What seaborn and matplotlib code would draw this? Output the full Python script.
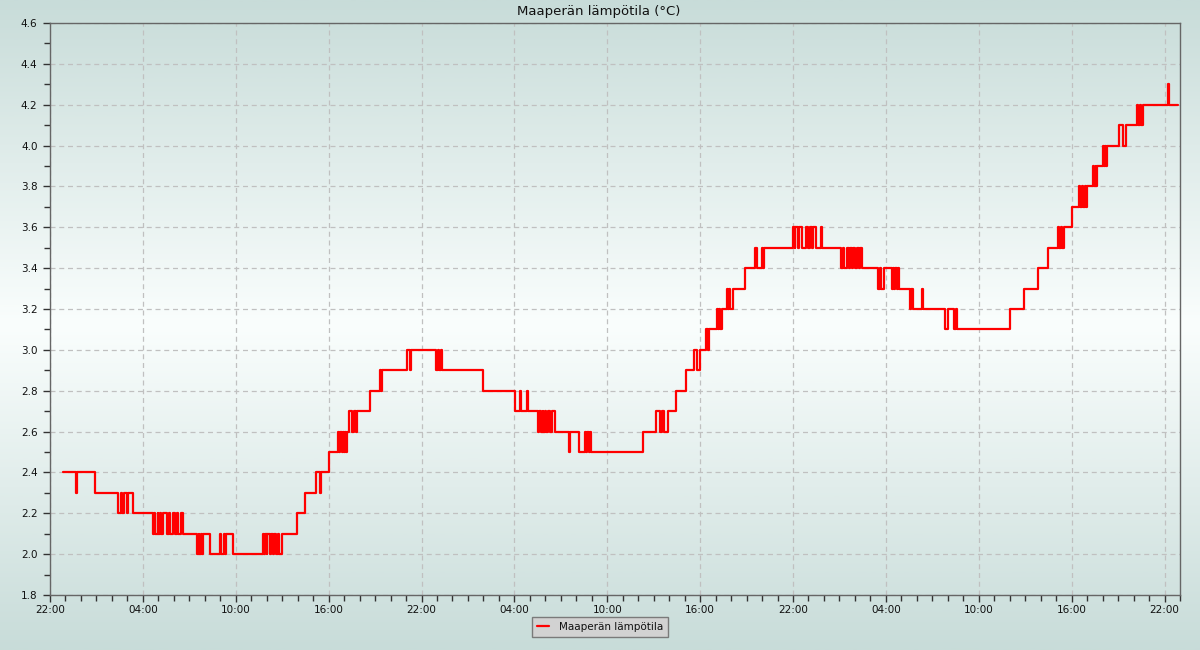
import numpy as np
import pandas as pd
import matplotlib
matplotlib.use("Agg")
import matplotlib.pyplot as plt
from matplotlib.colors import LinearSegmentedColormap
from matplotlib.ticker import MultipleLocator
import seaborn as sns

# ---- data: hours since 22:00 on day 1, soil temperature (°C), step changes ----
hours = [
    0.82, 1.68, 1.74, 2.91,
    4.39, 4.60, 4.68, 4.78, 4.98, 5.04, 5.36,
    6.65, 6.72, 6.80, 6.95, 7.00, 7.10, 7.18, 7.30,
    7.56, 7.70, 7.78, 7.95,
    8.07, 8.20, 8.30, 8.45, 8.59,
    9.50, 9.60, 9.65, 9.75, 9.80, 9.88,
    10.34, 10.98, 11.05, 11.24, 11.32, 11.40, 11.82,
    13.76, 13.85, 13.90, 14.00, 14.05, 14.20, 14.30, 14.40, 14.50, 14.60, 14.70, 14.80, 14.99,
    15.96, 16.47, 17.18, 17.44, 17.50, 18.02,
    18.60, 18.68, 18.75, 18.85, 18.90, 19.00, 19.05, 19.12, 19.19,
    19.32, 19.51, 19.64, 19.77, 19.83,
    20.67, 21.32, 21.38, 21.45,
    23.06, 23.26, 23.32,
    24.94, 25.05, 25.10, 25.28, 25.32,
    27.97, 30.04, 30.36, 30.42, 30.81, 30.87,
    31.52, 31.62, 31.70, 31.82, 31.88, 32.00, 32.05, 32.15, 32.30, 32.40, 32.62,
    33.53, 33.60,
    34.17, 34.56, 34.65, 34.72, 34.82, 34.88, 34.95,
    38.31,
    39.15, 39.40, 39.55, 39.65, 39.92,
    40.44, 41.09, 41.60, 41.80, 41.99,
    42.38, 42.51, 42.60,
    43.09, 43.15, 43.25, 43.30, 43.41,
    43.73, 43.80, 43.88, 43.93, 44.12,
    44.90, 45.54, 45.67, 45.98, 46.04, 46.12,
    48.00, 48.10, 48.15, 48.30, 48.38, 48.55, 48.84, 49.00, 49.10, 49.25, 49.30, 49.50, 49.82, 49.87,
    51.10, 51.20, 51.28, 51.50, 51.60, 51.70, 51.80, 51.90, 52.00, 52.15, 52.25, 52.35, 52.45,
    53.49, 53.60, 53.70, 53.88,
    54.39, 54.45, 54.55, 54.62, 54.70, 54.78, 54.85,
    55.56, 55.62, 55.75, 56.33, 56.38,
    57.82, 58.00, 58.40, 58.50, 58.59,
    62.05, 62.92, 63.82, 64.47,
    65.12, 65.20, 65.30, 65.40, 65.50,
    66.02, 66.47, 66.55, 66.65, 66.75, 66.85, 66.92, 66.99,
    67.38, 67.45, 67.55, 67.60, 67.64,
    68.02, 68.08, 68.18, 68.24, 68.28,
    69.06, 69.31, 69.50,
    70.22, 70.30, 70.40, 70.50, 70.61,
    72.22, 72.27, 72.87,
]
temps = [
    2.4, 2.3, 2.4, 2.3,
    2.2, 2.3, 2.2, 2.3, 2.2, 2.3, 2.2,
    2.1, 2.2, 2.1, 2.2, 2.1, 2.2, 2.1, 2.2,
    2.1, 2.2, 2.1, 2.2,
    2.1, 2.2, 2.1, 2.2, 2.1,
    2.0, 2.1, 2.0, 2.1, 2.0, 2.1,
    2.0, 2.1, 2.0, 2.1, 2.0, 2.1, 2.0,
    2.1, 2.0, 2.1, 2.0, 2.1, 2.0, 2.1, 2.0, 2.1, 2.0, 2.1, 2.0, 2.1,
    2.2, 2.3, 2.4, 2.3, 2.4, 2.5,
    2.6, 2.5, 2.6, 2.5, 2.6, 2.5, 2.6, 2.5, 2.6,
    2.7, 2.6, 2.7, 2.6, 2.7,
    2.8, 2.9, 2.8, 2.9,
    3.0, 2.9, 3.0,
    2.9, 3.0, 2.9, 3.0, 2.9,
    2.8, 2.7, 2.8, 2.7, 2.8, 2.7,
    2.6, 2.7, 2.6, 2.7, 2.6, 2.7, 2.6, 2.7, 2.6, 2.7, 2.6,
    2.5, 2.6,
    2.5, 2.6, 2.5, 2.6, 2.5, 2.6, 2.5,
    2.6,
    2.7, 2.6, 2.7, 2.6, 2.7,
    2.8, 2.9, 3.0, 2.9, 3.0,
    3.1, 3.0, 3.1,
    3.2, 3.1, 3.2, 3.1, 3.2,
    3.3, 3.2, 3.3, 3.2, 3.3,
    3.4, 3.5, 3.4, 3.5, 3.4, 3.5,
    3.6, 3.5, 3.6, 3.5, 3.6, 3.5, 3.6, 3.5, 3.6, 3.5, 3.6, 3.5, 3.6, 3.5,
    3.4, 3.5, 3.4, 3.5, 3.4, 3.5, 3.4, 3.5, 3.4, 3.5, 3.4, 3.5, 3.4,
    3.3, 3.4, 3.3, 3.4,
    3.3, 3.4, 3.3, 3.4, 3.3, 3.4, 3.3,
    3.2, 3.3, 3.2, 3.3, 3.2,
    3.1, 3.2, 3.1, 3.2, 3.1,
    3.2, 3.3, 3.4, 3.5,
    3.6, 3.5, 3.6, 3.5, 3.6,
    3.7, 3.8, 3.7, 3.8, 3.7, 3.8, 3.7, 3.8,
    3.9, 3.8, 3.9, 3.8, 3.9,
    4.0, 3.9, 4.0, 3.9, 4.0,
    4.1, 4.0, 4.1,
    4.2, 4.1, 4.2, 4.1, 4.2,
    4.3, 4.2, 4.2,
]
tick_hours = [0, 6, 12, 18, 24, 30, 36, 42, 48, 54, 60, 66, 72]
tick_labels = ["22:00", "04:00", "10:00", "16:00", "22:00", "04:00", "10:00",
               "16:00", "22:00", "04:00", "10:00", "16:00", "22:00"]
series_name = "Maaperän lämpötila"
title = "Maaperän lämpötila (°C)"

df = pd.DataFrame({"hours": hours, "temp": temps, "series": series_name})

sns.set_theme(style="ticks")
plt.rcParams["font.family"] = ["DejaVu Sans"]

fig = plt.figure(figsize=(12, 6.5), dpi=100)

# background gradient (teal-gray at top/bottom, white in middle)
edge = np.array([200, 220, 217]) / 255
mid = np.array([250, 254, 253]) / 255
cmap = LinearSegmentedColormap.from_list("bg", [edge, mid, edge])
bg = fig.add_axes([0, 0, 1, 1], zorder=-10)
grad = np.linspace(0, 1, 512).reshape(-1, 1)
bg.imshow(grad, aspect="auto", cmap=cmap, extent=[0, 1, 0, 1], origin="lower")
bg.set_axis_off()

ax = fig.add_axes([50 / 1200, 1 - 595 / 650, 1130 / 1200, 572 / 650])
ax.set_facecolor("none")

sns.lineplot(data=df, x="hours", y="temp", hue="series", palette=["#ff0000"],
             drawstyle="steps-post", linewidth=1.6, sort=False, ax=ax,
             estimator=None)

ax.set_xlim(0, 73)
ax.set_ylim(1.8, 4.6)
ax.set_xticks(tick_hours)
ax.set_xticklabels(tick_labels)
ax.xaxis.set_minor_locator(MultipleLocator(1))
ax.yaxis.set_major_locator(MultipleLocator(0.2))
ax.yaxis.set_minor_locator(MultipleLocator(0.1))
ax.yaxis.set_major_formatter(matplotlib.ticker.FormatStrFormatter("%.1f"))

ax.tick_params(axis="both", which="major", direction="out", length=5, width=1,
               color="#333333", labelsize=7.5, labelcolor="#111111")
ax.tick_params(axis="both", which="minor", direction="out", length=4, width=1,
               color="#333333")
ax.tick_params(axis="y", pad=4)
ax.tick_params(axis="x", pad=2)

ax.grid(True, which="major", color="#c0c0c0", linestyle=(0, (4, 3)), linewidth=0.9)
for s in ax.spines.values():
    s.set_color("#666666")
    s.set_linewidth(1)
    s.set_visible(True)

ax.set_xlabel("")
ax.set_ylabel("")
fig.text(0.4985, 1 - 11 / 650, title, ha="center", va="center", fontsize=9.5,
         color="#111111")

leg = ax.legend(loc="center", bbox_to_anchor=(600 / 1200, 1 - 627 / 650),
                bbox_transform=fig.transFigure, frameon=True, fancybox=False,
                fontsize=7.5, handlelength=1.2, borderpad=0.45,
                handletextpad=0.9)
leg.get_frame().set_facecolor("#d2d2d2")
leg.get_frame().set_edgecolor("#7a7a7a")
leg.get_frame().set_alpha(1)
leg.get_frame().set_linewidth(1)
for t in leg.get_texts():
    t.set_color("#111111")

fig.savefig("out.png", dpi=100)
